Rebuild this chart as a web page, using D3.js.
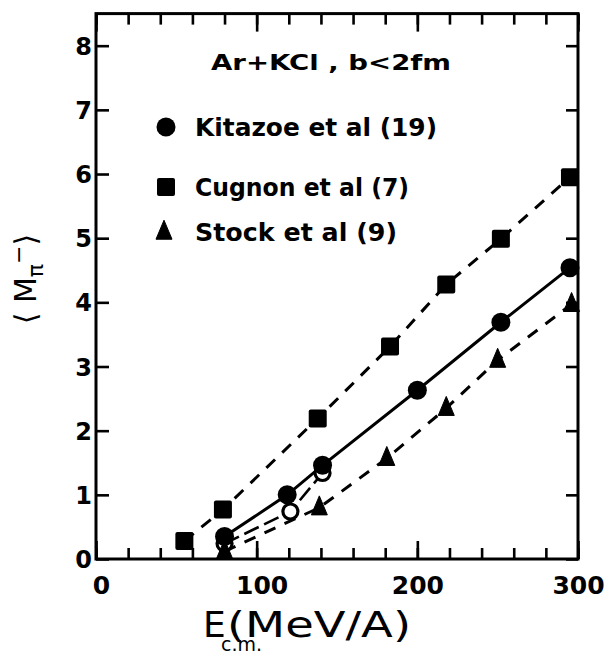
<!DOCTYPE html>
<html>
<head>
<meta charset="utf-8">
<script src="https://cdn.jsdelivr.net/npm/d3@7/dist/d3.min.js"></script>
<style>
  html, body { margin: 0; padding: 0; background: #fff; }
  svg { display: block; }
  .lbl { font-family: "DejaVu Sans", "Liberation Sans", sans-serif; font-weight: bold; fill: #000; }
  .ttl { font-family: "DejaVu Sans", "Liberation Sans", sans-serif; font-weight: normal; fill: #000; }
</style>
</head>
<body>
<script>
// Mean negative-pion multiplicity vs. centre-of-mass energy, Ar+KCl central collisions

// Cugnon et al (7) — filled squares, dashed line
const cugnonEnergy = [55, 79, 138, 183, 218, 252, 295];
const cugnonMult   = [0.28, 0.77, 2.19, 3.31, 4.28, 4.99, 5.95];

// Kitazoe et al (19) — filled circles, solid line
const kitazoeEnergy = [80, 119, 141, 200, 252, 295];
const kitazoeMult   = [0.35, 1.0, 1.46, 2.63, 3.69, 4.54];

// Kitazoe et al, second variant at low energy — open circles, dashed line
const kitazoeAltEnergy = [80, 121, 141];
const kitazoeAltMult   = [0.24, 0.74, 1.34];

// Stock et al (9) — filled triangles, dashed line
const stockEnergy = [80, 139, 181, 218, 250, 296];
const stockMult   = [0.12, 0.8, 1.57, 2.35, 3.1, 3.97];

const xMajorTicks = [0, 100, 200, 300];
const xMinorTicks = d3.range(0, 301, 20);
const yTicks = [0, 1, 2, 3, 4, 5, 6, 7, 8];

const W = 607, H = 658;
const svg = d3.select("body").append("svg").attr("width", W).attr("height", H);

const x = d3.scaleLinear().domain([0, 300]).range([96, 578]);
const y = d3.scaleLinear().domain([0, 8.5]).range([559, 13.6]);

const ink = "#000";

// frame
svg.append("rect")
  .attr("x", x(0)).attr("y", y(8.5))
  .attr("width", x(300) - x(0)).attr("height", y(0) - y(8.5))
  .attr("fill", "none").attr("stroke", ink).attr("stroke-width", 3);

function styleAxis(g) {
  g.select(".domain").remove();
  g.selectAll(".tick line").attr("stroke", ink).attr("stroke-width", 2.6);
}

// bottom axis: minor + major ticks pointing inward
svg.append("g").attr("transform", `translate(0,${y(0)})`)
  .call(d3.axisBottom(x).tickValues(xMinorTicks).tickSize(-11).tickFormat(""))
  .call(styleAxis);
const xAxisMajor = svg.append("g").attr("transform", `translate(0,${y(0)})`)
  .call(d3.axisBottom(x).tickValues(xMajorTicks).tickSize(-18).tickPadding(0))
  .call(styleAxis);
xAxisMajor.selectAll(".tick text")
  .attr("class", "lbl").attr("font-size", 25)
  .attr("y", 26).attr("dx", d => (d === 300 ? 0 : d === 200 ? 0 : 5)).attr("dy", "0.35em");

// top axis
svg.append("g").attr("transform", `translate(0,${y(8.5)})`)
  .call(d3.axisTop(x).tickValues(xMinorTicks).tickSize(-11).tickFormat(""))
  .call(styleAxis);
svg.append("g").attr("transform", `translate(0,${y(8.5)})`)
  .call(d3.axisTop(x).tickValues(xMajorTicks).tickSize(-18).tickFormat(""))
  .call(styleAxis);

// left axis
const yAxis = svg.append("g").attr("transform", `translate(${x(0)},0)`)
  .call(d3.axisLeft(y).tickValues(yTicks).tickSize(-13).tickPadding(4).tickFormat(d3.format("d")))
  .call(styleAxis);
yAxis.selectAll(".tick text")
  .attr("class", "lbl").attr("font-size", 24).attr("x", -4).attr("dy", "0.36em");

// right axis
svg.append("g").attr("transform", `translate(${x(300)},0)`)
  .call(d3.axisRight(y).tickValues(yTicks).tickSize(-12).tickFormat(""))
  .call(styleAxis);

// series lines
const line = d3.line().x(d => x(d[0])).y(d => y(d[1]));
const zip = (a, b) => a.map((v, i) => [v, b[i]]);

const cugnon = zip(cugnonEnergy, cugnonMult);
const kitazoe = zip(kitazoeEnergy, kitazoeMult);
const kitazoeAlt = zip(kitazoeAltEnergy, kitazoeAltMult);
const stock = zip(stockEnergy, stockMult);

svg.append("path").attr("d", line(cugnon)).attr("fill", "none")
  .attr("stroke", ink).attr("stroke-width", 3).attr("stroke-dasharray", "12 10");
svg.append("path").attr("d", line(stock)).attr("fill", "none")
  .attr("stroke", ink).attr("stroke-width", 3).attr("stroke-dasharray", "12 10");
svg.append("path").attr("d", line(kitazoeAlt)).attr("fill", "none")
  .attr("stroke", ink).attr("stroke-width", 2.6).attr("stroke-dasharray", "16 6");
svg.append("path").attr("d", line(kitazoe)).attr("fill", "none")
  .attr("stroke", ink).attr("stroke-width", 3);

// markers
const sq = 18, circR = 9.5, triW = 16, triH = 19;
function square(g, px, py) {
  g.append("rect").attr("x", px - sq / 2).attr("y", py - sq / 2)
    .attr("width", sq).attr("height", sq).attr("rx", 2).attr("fill", ink);
}
function triangle(g, px, py) {
  g.append("path")
    .attr("d", `M${px},${py - triH * 0.62} L${px + triW / 2},${py + triH * 0.38} L${px - triW / 2},${py + triH * 0.38} Z`)
    .attr("fill", ink).attr("stroke", ink).attr("stroke-width", 1).attr("stroke-linejoin", "round");
}

const marks = svg.append("g");
kitazoeAlt.forEach(d => marks.append("circle").attr("cx", x(d[0])).attr("cy", y(d[1]))
  .attr("r", 7.5).attr("fill", "#fff").attr("stroke", ink).attr("stroke-width", 3.2));
stock.forEach(d => triangle(marks, x(d[0]), y(d[1])));
cugnon.forEach(d => square(marks, x(d[0]), y(d[1])));
kitazoe.forEach(d => marks.append("circle").attr("cx", x(d[0])).attr("cy", y(d[1]))
  .attr("r", circR).attr("fill", ink));

// legend
svg.append("text").attr("class", "lbl")
  .attr("x", 211).attr("y", 70).attr("font-size", 22)
  .attr("textLength", 240).attr("lengthAdjust", "spacingAndGlyphs")
  .text("Ar+KCl , b<2fm");

const legendRows = [
  { y: 127, text: "Kitazoe et al (19)", len: 242, mark: "circle" },
  { y: 187, text: "Cugnon et al (7)", len: 214, mark: "square" },
  { y: 232, text: "Stock et al (9)", len: 202, mark: "triangle" }
];
legendRows.forEach(r => {
  if (r.mark === "circle") svg.append("circle").attr("cx", 166).attr("cy", r.y).attr("r", circR).attr("fill", ink);
  if (r.mark === "square") square(svg, 166, r.y);
  if (r.mark === "triangle") triangle(svg, 164, r.y);
  svg.append("text").attr("class", "lbl")
    .attr("x", 195).attr("y", r.y + 9).attr("font-size", 24)
    .attr("textLength", r.len).attr("lengthAdjust", "spacingAndGlyphs")
    .text(r.text);
});

// y-axis title ⟨M_π^-⟩
const yt = svg.append("text").attr("class", "ttl")
  .attr("transform", "translate(36,279) rotate(-90)")
  .attr("text-anchor", "middle").attr("font-size", 30);
yt.append("tspan").text("⟨ M");
yt.append("tspan").attr("font-size", 22).attr("dy", 7).text("π");
yt.append("tspan").attr("font-size", 22).attr("dy", -17).text("−");
yt.append("tspan").attr("dy", 10).text("⟩");

// x-axis title E_c.m.(MeV/A)
const xt = svg.append("text").attr("class", "ttl")
  .attr("x", 203).attr("y", 637).attr("font-size", 36);
xt.append("tspan").text("E");
xt.append("tspan").attr("x", 221).attr("dy", 14).attr("font-size", 19).text("c.m.");
xt.append("tspan").attr("x", 227).attr("dy", -14)
  .attr("textLength", 184).attr("lengthAdjust", "spacingAndGlyphs").text("(MeV/A)");
</script>
</body>
</html>
